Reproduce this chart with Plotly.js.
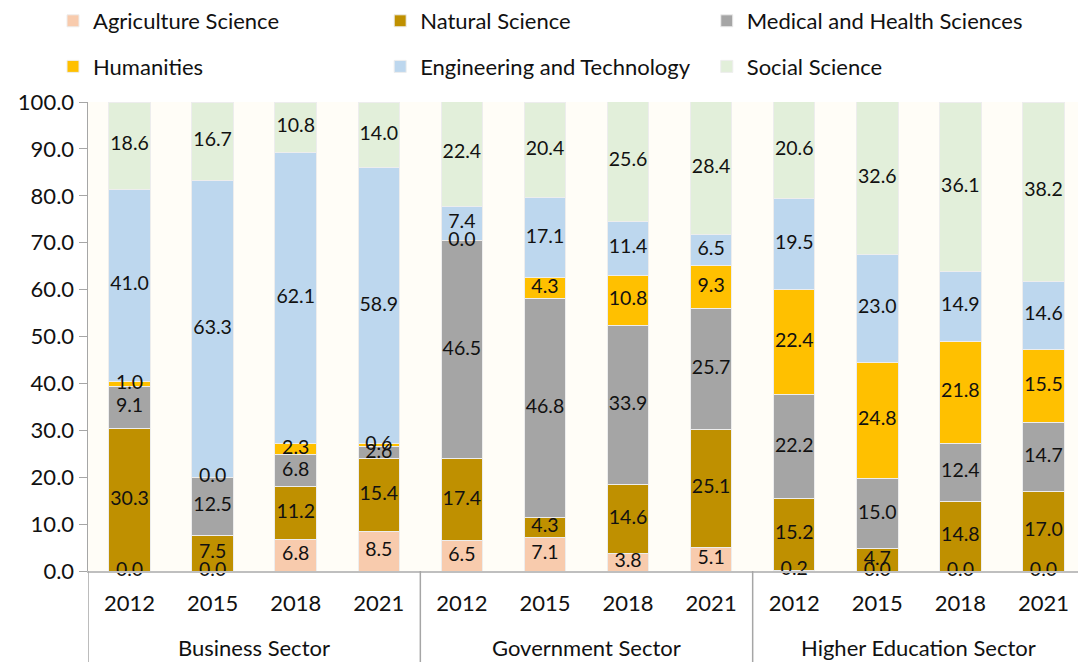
<!DOCTYPE html>
<html>
<head>
<meta charset="utf-8">
<script src="https://cdn.plot.ly/plotly-3.0.1.min.js"></script>
<style>html,body{margin:0;padding:0;background:#fff;overflow:hidden;}#chart{width:1085px;height:662px;}</style>
</head>
<body>
<div id="chart"></div>
<script>
// ---- data ----
const sectors = ["Business Sector", "Government Sector", "Higher Education Sector"];
const years = ["2012", "2015", "2018", "2021"];
const seriesNames = ["Agriculture Science", "Natural Science", "Medical and Health Sciences", "Humanities", "Engineering and Technology", "Social Science"];
const agriculture = [0.0, 0.0, 6.8, 8.5, 6.5, 7.1, 3.8, 5.1, 0.2, 0.0, 0.0, 0.0];
const natural     = [30.3, 7.5, 11.2, 15.4, 17.4, 4.3, 14.6, 25.1, 15.2, 4.7, 14.8, 17.0];
const medical     = [9.1, 12.5, 6.8, 2.6, 46.5, 46.8, 33.9, 25.7, 22.2, 15.0, 12.4, 14.7];
const humanities  = [1.0, 0.0, 2.3, 0.6, 0.0, 4.3, 10.8, 9.3, 22.4, 24.8, 21.8, 15.5];
const engineering = [41.0, 63.3, 62.1, 58.9, 7.4, 17.1, 11.4, 6.5, 19.5, 23.0, 14.9, 14.6];
const social      = [18.6, 16.7, 10.8, 14.0, 22.4, 20.4, 25.6, 28.4, 20.6, 32.6, 36.1, 38.2];

// ---- styling ----
const colors = ["#F8CBAD", "#BF9000", "#A5A5A5", "#FFC000", "#BDD7EE", "#E2EFDA"];
const legendIds = ["legend", "legend2", "legend3", "legend", "legend2", "legend3"];
const FONT = "Lato, 'Open Sans', sans-serif";

// unique category per bar (sector + year), shown on the axis as the year
const xCats = [], xYearText = [];
sectors.forEach(s => years.forEach(y => { xCats.push(s + " " + y); xYearText.push(y); }));

const allSeries = [agriculture, natural, medical, humanities, engineering, social];
const traces = [];
const cum = new Array(xCats.length).fill(0);
const labelTraces = [];
allSeries.forEach((vals, i) => {
  traces.push({
    type: "bar", x: xCats, y: vals, name: seriesNames[i],
    marker: {color: colors[i], line: {color: "#EDEDED", width: 1}},
    legend: legendIds[i], legendgroup: "g" + i,
    hoverinfo: "name+y"
  });
  const ys = vals.map((v, k) => cum[k] + v / 2);
  labelTraces.push({
    type: "scatter", mode: "text", x: xCats, y: ys,
    text: vals.map(v => v.toFixed(1)),
    textposition: "middle center",
    textfont: {family: FONT, size: 19.5, color: "#111"},
    showlegend: false, hoverinfo: "skip", cliponaxis: false
  });
  vals.forEach((v, k) => cum[k] += v);
});

// sector group labels and dividers, placed by category index
const nY = years.length;
const annotations = sectors.map((s, i) => ({
  text: s, xref: "x", x: i * nY + (nY - 1) / 2, yref: "paper", y: -0.164,
  xanchor: "center", yanchor: "middle", showarrow: false,
  font: {family: FONT, size: 22, color: "#111"}
}));
const shapes = sectors.map((s, i) => ({
  type: "line", xref: "x", x0: i * nY - 0.5, x1: i * nY - 0.5,
  yref: "paper", y0: 0, y1: -0.2,
  line: {color: "#A6A6A6", width: 1.5}
}));

const legendBase = {
  orientation: "v", yanchor: "top", xanchor: "left", y: 1.0,
  xref: "container", yref: "container",
  font: {family: FONT, size: 22, color: "#111"},
  bgcolor: "rgba(0,0,0,0)", tracegroupgap: 14, traceorder: "grouped",
  itemwidth: 30
};

const layout = {
  width: 1085, height: 662,
  margin: {l: 88, r: 0, t: 102, b: 91, autoexpand: false},
  paper_bgcolor: "#FFFFFF",
  plot_bgcolor: "#FFFDF7",
  barmode: "stack",
  bargap: 0.5,
  font: {family: FONT, size: 22, color: "#111"},
  showlegend: true,
  legend: Object.assign({}, legendBase, {x: 0.04885}),
  legend2: Object.assign({}, legendBase, {x: 0.3504}),
  legend3: Object.assign({}, legendBase, {x: 0.6514}),
  annotations: annotations,
  shapes: shapes,
  xaxis: {
    type: "category",
    range: [-0.5, xCats.length - 0.5], autorange: false,
    tickmode: "array", tickvals: xCats, ticktext: xYearText,
    showline: true, linecolor: "#BFBFBF", linewidth: 1.5,
    ticks: "", ticklabelstandoff: 12,
    tickfont: {family: FONT, size: 22, color: "#111"},
    showgrid: false, zeroline: false
  },
  yaxis: {
    range: [0, 100], dtick: 10, tick0: 0, tickformat: ".1f",
    showline: true, linecolor: "#A6A6A6", linewidth: 1.5,
    ticks: "outside", ticklen: 8, tickcolor: "#A6A6A6",
    showgrid: false, zeroline: false,
    tickfont: {family: FONT, size: 22, color: "#111"}
  }
};

Plotly.newPlot("chart", traces.concat(labelTraces), layout, {displayModeBar: false, staticPlot: true});
</script>
</body>
</html>
